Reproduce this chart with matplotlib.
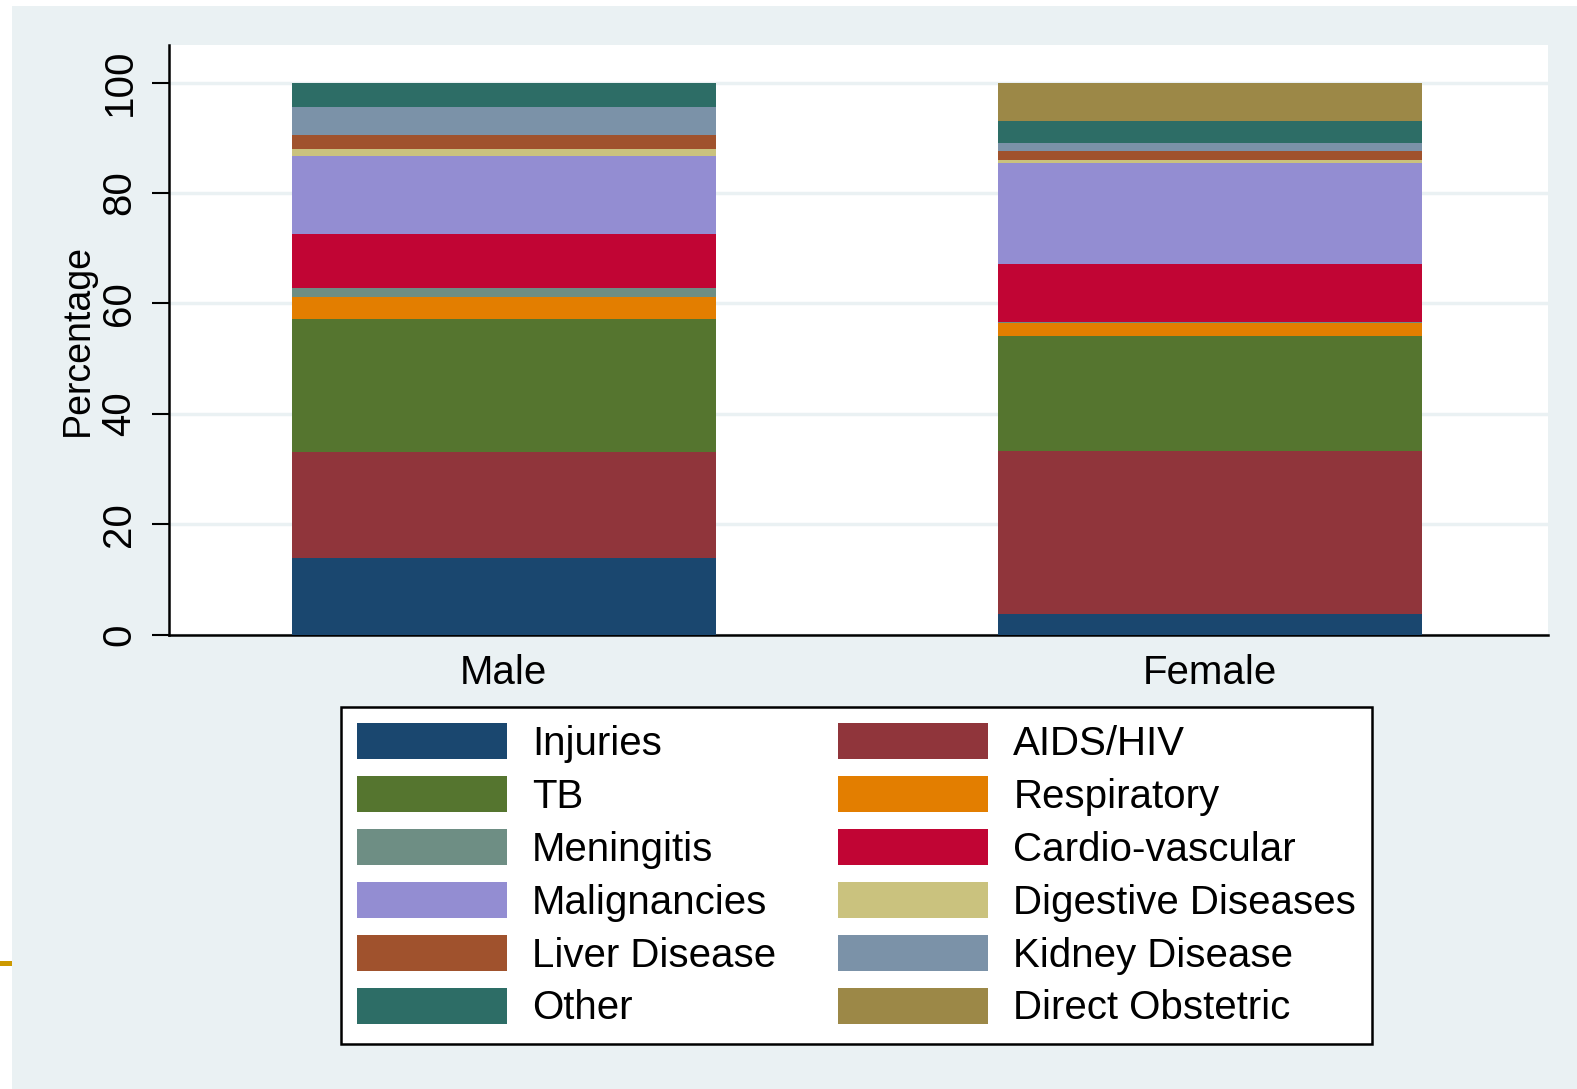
import matplotlib
matplotlib.use("Agg")
import matplotlib.pyplot as plt
from matplotlib.patches import Rectangle, Patch

plt.rcParams["font.family"] = ["Liberation Sans", "DejaVu Sans"]

groups = ["Male", "Female"]
causes = ["Injuries", "AIDS/HIV", "TB", "Respiratory", "Meningitis",
          "Cardio-vascular", "Malignancies", "Digestive Diseases",
          "Liver Disease", "Kidney Disease", "Other", "Direct Obstetric"]
male = [13.8, 19.3, 24.1, 4.0, 1.5, 9.9, 14.1, 1.3, 2.5, 5.1, 4.4, 0.0]
female = [3.8, 29.5, 20.7, 2.4, 0.2, 10.5, 18.3, 0.5, 1.7, 1.5, 4.0, 6.9]
colors = ["#1A476F", "#90353B", "#55752F", "#E37E00", "#6E8E84", "#C10534",
          "#938DD2", "#CAC27E", "#A0522D", "#7B92A8", "#2D6D66", "#9C8847"]
yticks = [0, 20, 40, 60, 80, 100]

BG = "#EAF1F3"
W, H = 1577, 1089
fig = plt.figure(figsize=(W / 100, H / 100), dpi=100, facecolor="white")
# light graph region, leaving the thin white strip at left/top
fig.add_artist(Rectangle((12 / W, 0), 1, 1 - 6 / H, transform=fig.transFigure,
                         facecolor=BG, edgecolor="none", zorder=-10))
fig.add_artist(Rectangle((0, 1 - 966 / H), 12 / W, 5 / H, transform=fig.transFigure,
                         facecolor="#CC9900", edgecolor="none", zorder=-5))

ax = fig.add_axes([169 / W, 1 - 634.5 / H, (1548 - 169) / W, (634.5 - 45) / H])
ax.set_facecolor("white")

x = range(len(groups))
bottoms = [0.0, 0.0]
for name, m, f, c in zip(causes, male, female, colors):
    vals = [m, f]
    ax.bar(x, vals, width=0.6, bottom=bottoms, color=c, label=name,
           edgecolor="none", zorder=3)
    bottoms = [b + v for b, v in zip(bottoms, vals)]

ax.set_xlim(-0.474, 1.479)
ax.set_ylim(0, 106.8)
ax.set_yticks(yticks)
ax.set_yticklabels([str(t) for t in yticks], rotation=90, va="center", fontsize=29)
ax.set_xticks(list(x))
ax.set_xticklabels(groups, fontsize=29)
ax.tick_params(axis="x", length=0, pad=14)
ax.tick_params(axis="y", length=12, width=1.5, pad=10)
ax.yaxis.grid(True, color=BG, linewidth=2.5, zorder=0)
ax.set_axisbelow(True)
for s in ["top", "right"]:
    ax.spines[s].set_visible(False)
for s in ["left", "bottom"]:
    ax.spines[s].set_linewidth(1.8)
ax.set_ylabel("Percentage", fontsize=27, labelpad=3)

# legend reads row by row, matplotlib fills column by column
order = list(range(0, len(causes), 2)) + list(range(1, len(causes), 2))
handles = [Patch(facecolor=colors[i], edgecolor="none") for i in order]
labels = [causes[i] for i in order]
leg = fig.legend(handles, labels, ncol=2, fontsize=29,
                 loc="upper left", bbox_to_anchor=(341 / W, 1 - 707 / H),
                 bbox_transform=fig.transFigure,
                 frameon=True, fancybox=False, edgecolor="black", framealpha=1,
                 handlelength=3.72, handleheight=1.0, handletextpad=0.62,
                 labelspacing=0.325, columnspacing=1.55, borderpad=0.4,
                 borderaxespad=0)
leg.get_frame().set_linewidth(1.8)
leg.get_frame().set_facecolor("white")

fig.savefig("out.png", dpi=100, facecolor=fig.get_facecolor())
